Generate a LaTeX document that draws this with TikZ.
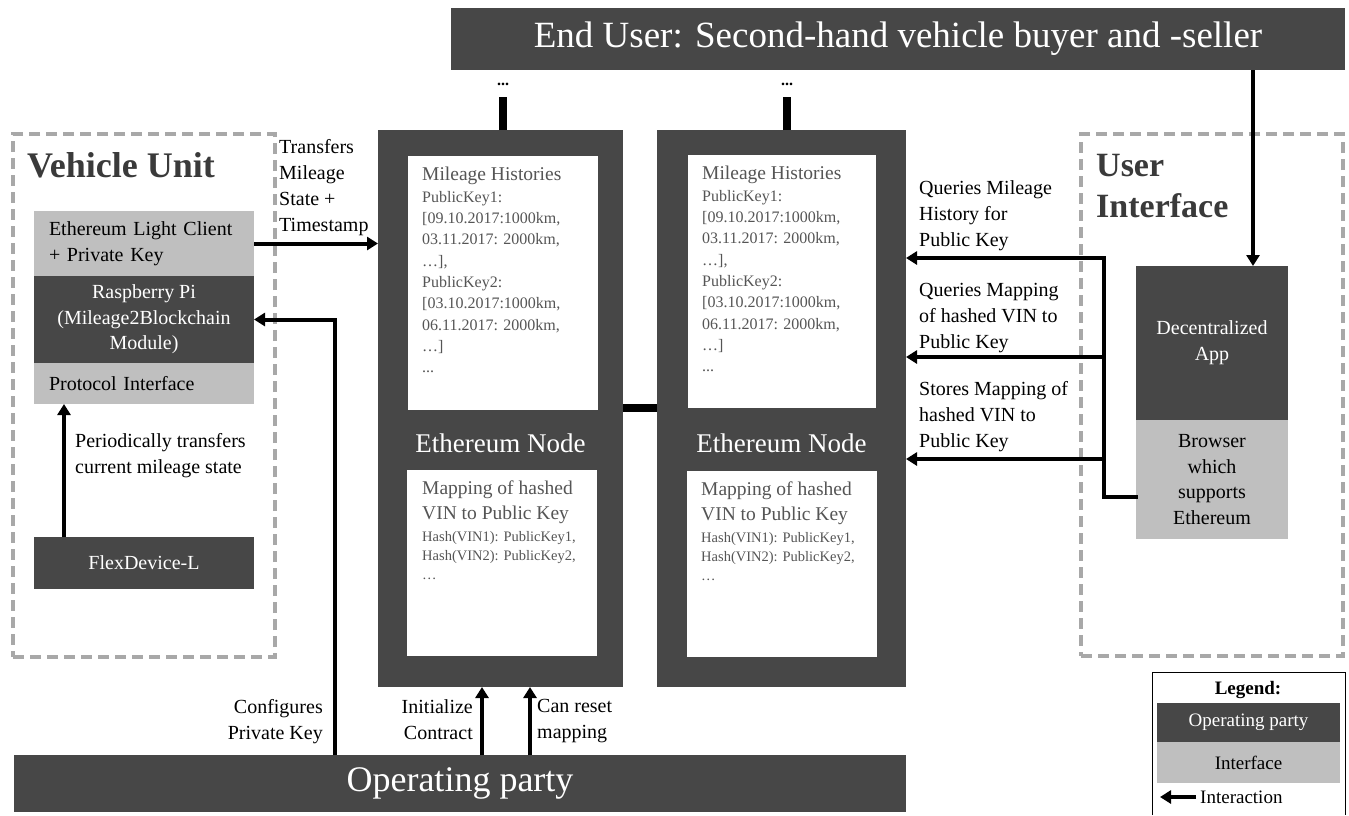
\documentclass[tikz,border=0pt]{standalone}
\usepackage{fontspec}
\setmainfont{Liberation Serif}
\usetikzlibrary{arrows.meta}
\definecolor{dk}{HTML}{474747}
\definecolor{lt}{HTML}{BFBFBF}
\definecolor{dashc}{HTML}{A8A8A8}
\definecolor{txt}{HTML}{555555}
\definecolor{ttl}{HTML}{3A3A3A}
\begin{document}
\begin{tikzpicture}[x=1pt,y=-1pt,
  box/.style={anchor=north west, inner sep=0pt, outer sep=0pt},
  dark/.style={box, fill=dk, text=white},
  light/.style={box, fill=lt, text=black},
  whitebox/.style={box, fill=white},
  lbl/.style={font=\fontsize{20}{26}\selectfont, align=left, inner sep=0pt, text=black},
  arr/.style={line width=4pt, -{Triangle[length=11pt,width=13pt]}},
  link/.style={line width=4pt},
  dashbox/.style={box, draw=dashc, line width=3.5pt, dash pattern=on 11pt off 6pt},
  bigt/.style={font=\bfseries\fontsize{34}{41}\selectfont, text=ttl, align=left, inner sep=0pt},
  datat/.style={font=\fontsize{16}{21.3}\selectfont, text=txt, align=left, inner sep=0pt},
  headt/.style={font=\fontsize{19.5}{25}\selectfont, text=txt, align=left, inner sep=0pt},
  hasht/.style={font=\fontsize{14.5}{19}\selectfont, text=txt, align=left, inner sep=0pt},
  nodet/.style={font=\fontsize{27}{30}\selectfont, text=white, inner sep=0pt},
]
\useasboundingbox (0,0) rectangle (1349,815);
\fill[white] (0,0) rectangle (1349,815);

% top bar
\node[dark, minimum width=894pt, minimum height=62pt, font=\fontsize{37}{40}\selectfont] (enduser) at (451,8) {End User: Second-hand vehicle buyer and -seller};

% vehicle unit
\node[dashbox, minimum width=262pt, minimum height=523pt] (vu) at (13,134) {};
\node[bigt, font=\bfseries\fontsize{36}{41}\selectfont, anchor=north west] (vut) at (27,152) {Vehicle Unit};
\node[light, minimum width=220pt, minimum height=65pt, text width=190pt, align=left, font=\fontsize{20}{26}\selectfont] (elc) at (34,211) {Ethereum Light Client\\+ Private Key};
\node[dark, minimum width=220pt, minimum height=87pt, align=center, font=\fontsize{20}{25.5}\selectfont] (rpi) at (34,276) {Raspberry Pi\\(Mileage2Blockchain\\Module)};
\node[light, minimum width=220pt, minimum height=41pt, text width=190pt, align=left, font=\fontsize{20}{26}\selectfont] (proto) at (34,363) {Protocol Interface};
\node[dark, minimum width=220pt, minimum height=52pt, font=\fontsize{20}{26}\selectfont] (flex) at (34,537) {FlexDevice-L};
\draw[arr] (flex.north -| 64,0) -- (proto.south -| 64,0);
\node[lbl, anchor=north west] (perl) at (75,433) {Periodically transfers\\current mileage state};

% ethereum node 1
\node[dark, minimum width=245pt, minimum height=557pt] (n1) at (378,130) {};
\node[whitebox, minimum width=190pt, minimum height=254pt] (n1a) at (408,156) {};
\node[headt, anchor=north west] (n1h) at (422,167) {Mileage Histories};
\node[datat, anchor=north west] (n1d) at (422,191) {PublicKey1:\\{}[09.10.2017:1000km,\\03.11.2017: 2000km,\\…],\\PublicKey2:\\{}[03.10.2017:1000km,\\06.11.2017: 2000km,\\…]\\...};
\node[nodet] (n1t) at (500.5,443) {Ethereum Node};
\node[whitebox, minimum width=190pt, minimum height=186pt] (n1b) at (407,470) {};
\node[headt, anchor=north west] (n1m) at (422,481) {Mapping of hashed\\VIN to Public Key};
\node[hasht, anchor=north west] (n1x) at (422,531) {Hash(VIN1): PublicKey1,\\Hash(VIN2): PublicKey2,\\…};

% ethereum node 2
\node[dark, minimum width=249pt, minimum height=557pt] (n2) at (657,130) {};
\node[whitebox, minimum width=188pt, minimum height=253pt] (n2a) at (688,155) {};
\node[headt, anchor=north west] (n2h) at (702,166) {Mileage Histories};
\node[datat, anchor=north west] (n2d) at (702,190) {PublicKey1:\\{}[09.10.2017:1000km,\\03.11.2017: 2000km,\\…],\\PublicKey2:\\{}[03.10.2017:1000km,\\06.11.2017: 2000km,\\…]\\...};
\node[nodet] (n2t) at (781.5,443) {Ethereum Node};
\node[whitebox, minimum width=190pt, minimum height=186pt] (n2b) at (687,471) {};
\node[headt, anchor=north west] (n2m) at (701,482) {Mapping of hashed\\VIN to Public Key};
\node[hasht, anchor=north west] (n2x) at (701,532) {Hash(VIN1): PublicKey1,\\Hash(VIN2): PublicKey2,\\…};

% links between nodes and to the top
\draw[line width=8pt] (n1.east |- 0,408) -- (n2.west |- 0,408);
\node[font=\bfseries\fontsize{16}{16}\selectfont, inner sep=0pt] (dots1) at (503,84) {...};
\node[font=\bfseries\fontsize{16}{16}\selectfont, inner sep=0pt] (dots2) at (787,84) {...};
\draw[line width=8pt] (n1.north -| dots1) -- ++(0,-33);
\draw[line width=8pt] (n2.north -| dots2) -- ++(0,-33);

% transfers arrow
\draw[arr] (elc.east) -- (elc.east -| n1.west);
\node[lbl, anchor=north west] (trl) at (279,139) {Transfers\\Mileage\\State +\\Timestamp};

% operating party
\node[dark, minimum width=892pt, minimum height=57pt, font=\fontsize{36}{40}\selectfont] (op) at (14,755) {Operating party};
\draw[arr] (op.north -| 335,0) |- (rpi.east);
\node[lbl, align=right, anchor=north east] (cfg) at (323,699) {Configures\\Private Key};
\draw[arr] (op.north -| 482,0) -- (n1.south -| 482,0);
\draw[arr] (op.north -| 530,0) -- (n1.south -| 530,0);
\node[lbl, align=right, anchor=north east] (ini) at (473,699) {Initialize\\Contract};
\node[lbl, anchor=north west] (rst) at (537,699) {Can reset\\mapping};

% user interface
\node[dashbox, minimum width=262pt, minimum height=522pt] (ui) at (1081,134) {};
\node[bigt, anchor=north west] (uit) at (1096,154) {User\\Interface};
\node[dark, minimum width=152pt, minimum height=154pt, align=center, font=\fontsize{20}{26}\selectfont] (dapp) at (1136,266) {Decentralized\\App};
\node[light, minimum width=152pt, minimum height=119pt, align=center, font=\fontsize{20}{25.7}\selectfont] (brow) at (1136,420) {Browser\\which\\supports\\Ethereum};
\draw[arr] (enduser.south -| 1253,0) -- (dapp.north -| 1253,0);

\coordinate (bj) at (1104,258);
\draw[link, line cap=rect] (brow.west |- 0,497) -| (bj);
\draw[arr] (bj) -- (n2.east |- bj);
\draw[arr] (bj |- 0,357) -- (n2.east |- 0,357);
\draw[arr] (bj |- 0,459) -- (n2.east |- 0,459);
\node[lbl, anchor=north west] (q1) at (919,180) {Queries Mileage\\History for\\Public Key};
\node[lbl, anchor=north west] (q2) at (919,283) {Queries Mapping\\of hashed VIN to\\Public Key};
\node[lbl, anchor=north west] (q3) at (919,381) {Stores Mapping of\\hashed VIN to\\Public Key};

% legend
\draw[line width=1pt] (1152,815) |- (1345,672) -- (1345,815);
\node[font=\bfseries\fontsize{19}{22}\selectfont, inner sep=0pt] (legt) at (1248,690) {Legend:};
\node[dark, minimum width=183pt, minimum height=39pt, font=\fontsize{19}{22}\selectfont] (legop) at (1157,703) {Operating party};
\node[light, minimum width=183pt, minimum height=41pt, font=\fontsize{19}{22}\selectfont] (legif) at (1157,742) {Interface};
\coordinate (la1) at (1196,797);
\coordinate (la2) at (1160,797);
\draw[arr] (la1) -- (la2);
\node[font=\fontsize{19}{22}\selectfont, anchor=west, inner sep=0pt] (legia) at (1200,797) {Interaction};
\end{tikzpicture}
\end{document}
